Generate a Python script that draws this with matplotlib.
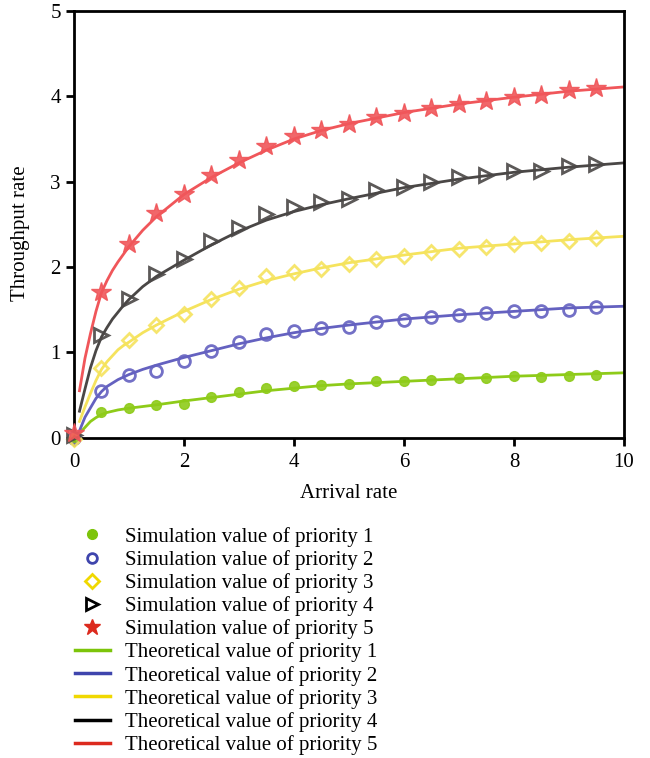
import numpy as np
import matplotlib
matplotlib.use('Agg')
import matplotlib.pyplot as plt
from matplotlib.lines import Line2D

plt.rcParams['font.family'] = ['Liberation Serif', 'DejaVu Serif']

## simulation points
x_sim = [0, 0.5, 1, 1.5, 2, 2.5, 3, 3.5, 4, 4.5, 5, 5.5, 6, 6.5, 7, 7.5, 8, 8.5, 9, 9.5]
sim_p1 = [0.0, 0.30, 0.345, 0.38, 0.39, 0.48, 0.53, 0.58, 0.60, 0.62, 0.63, 0.66, 0.66, 0.68,
          0.70, 0.70, 0.72, 0.71, 0.72, 0.74]
sim_p2 = [0.0, 0.55, 0.74, 0.78, 0.90, 1.02, 1.12, 1.21, 1.25, 1.28, 1.30, 1.35, 1.38, 1.41,
          1.44, 1.46, 1.48, 1.49, 1.50, 1.53]
sim_p3 = [-0.02, 0.82, 1.14, 1.32, 1.45, 1.63, 1.75, 1.89, 1.94, 1.98, 2.03, 2.09, 2.13, 2.18,
          2.21, 2.24, 2.27, 2.28, 2.31, 2.34]
sim_p4 = [0.03, 1.20, 1.63, 1.92, 2.09, 2.30, 2.46, 2.62, 2.70, 2.76, 2.80, 2.90, 2.94, 3.00,
          3.05, 3.08, 3.12, 3.13, 3.18, 3.21]
sim_p5 = [0.06, 1.71, 2.27, 2.63, 2.85, 3.08, 3.25, 3.42, 3.54, 3.60, 3.67, 3.76, 3.80, 3.86,
          3.91, 3.95, 3.99, 4.01, 4.07, 4.10]

## theoretical curves
x_th = [0.1, 0.2, 0.3, 0.4, 0.5, 0.6, 0.7, 0.8, 0.9, 1, 1.25, 1.5, 2, 2.5, 3, 3.5, 4, 4.5, 5,
        6, 7, 8, 9, 10]
th_p1 = [0.05, 0.12, 0.19, 0.235, 0.27, 0.295, 0.31, 0.325, 0.335, 0.345, 0.365, 0.385, 0.43,
         0.47, 0.51, 0.55, 0.58, 0.61, 0.63, 0.66, 0.69, 0.72, 0.74, 0.76]
th_p2 = [0.08, 0.24, 0.35, 0.46, 0.54, 0.60, 0.64, 0.68, 0.71, 0.74, 0.80, 0.85, 0.94, 1.02,
         1.10, 1.17, 1.23, 1.28, 1.32, 1.39, 1.44, 1.48, 1.52, 1.54]
th_p3 = [0.19, 0.36, 0.52, 0.67, 0.80, 0.89, 0.96, 1.03, 1.08, 1.12, 1.23, 1.32, 1.48, 1.62,
         1.74, 1.84, 1.92, 1.99, 2.05, 2.14, 2.22, 2.27, 2.32, 2.36]
th_p4 = [0.31, 0.57, 0.82, 1.02, 1.18, 1.29, 1.39, 1.47, 1.55, 1.62, 1.77, 1.89, 2.08, 2.26,
         2.42, 2.55, 2.65, 2.73, 2.80, 2.93, 3.03, 3.11, 3.17, 3.22]
th_p5 = [0.55, 0.93, 1.22, 1.48, 1.70, 1.84, 1.96, 2.06, 2.15, 2.24, 2.43, 2.59, 2.85, 3.05,
         3.22, 3.37, 3.50, 3.60, 3.68, 3.81, 3.91, 3.99, 4.06, 4.11]
## the two lowest curves start right at the origin
x_th_low = [0.0, 0.05]
th_p1_low = [0.0, 0.02]
th_p2_low = [0.0, 0.02]

sim_labels = ['Simulation value of priority %d' % i for i in range(1, 6)]
th_labels = ['Theoretical value of priority %d' % i for i in range(1, 6)]

plot_colors = ['#8ecb19', '#6461c0', '#f5e35d', '#4a4746', '#f0565a']
leg_colors = ['#7cc40a', '#3f45ad', '#f0d800', '#000000', '#dc2a1e']

fig = plt.figure(figsize=(6.5, 7.58), dpi=100)
ax = fig.add_axes([0.1138, 0.4226, 0.8462, 0.5629])

th_all = [th_p1, th_p2, th_p3, th_p4, th_p5]

for i in range(5):
    xs = list(x_th)
    ys = list(th_all[i])
    if i == 0:
        xs = x_th_low + xs
        ys = th_p1_low + ys
    if i == 1:
        xs = x_th_low[1:] + xs
        ys = th_p2_low[1:] + ys
    ax.plot(xs, ys, c=plot_colors[i], lw=2.0, zorder=2)

## markers
ax.plot(x_sim, sim_p1, ls='none', marker='o', ms=7, mfc=plot_colors[0], mec=plot_colors[0],
        alpha=0.9, clip_on=False, zorder=3)
ax.plot(x_sim, sim_p2, ls='none', marker='o', ms=8.5, mfc='none', mec=plot_colors[1], mew=2.0,
        alpha=0.9, clip_on=False, zorder=3)
ax.plot(x_sim, sim_p3, ls='none', marker='D', ms=7.5, mfc='none', mec=plot_colors[2], mew=2.0,
        alpha=0.9, clip_on=False, zorder=3)
ax.plot(x_sim, sim_p4, ls='none', marker='>', ms=9.5, mfc='none', mec=plot_colors[3], mew=2.0,
        alpha=0.9, clip_on=False, zorder=3)
ax.plot(x_sim, sim_p5, ls='none', marker='*', ms=15, mfc=plot_colors[4], mec=plot_colors[4],
        alpha=0.9, clip_on=False, zorder=3)

ax.set_xlim(0, 10)
ax.set_ylim(0, 5)
ax.set_xticks([0, 2, 4, 6, 8, 10])
ax.set_yticks([0, 1, 2, 3, 4, 5])
ax.tick_params(direction='out', length=6, width=2, labelsize=15, top=False, right=False)
ax.tick_params(axis='x', pad=5)
for sp in ax.spines.values():
    sp.set_linewidth(2)
ax.set_xlabel('Arrival rate', fontsize=15, labelpad=9)
ax.set_ylabel('Throughput rate', fontsize=15)
ax.yaxis.set_label_coords(-0.08, 0.48)

## legend with its own (more saturated) colours
handles = [
    Line2D([], [], ls='none', marker='o', ms=7, mfc=leg_colors[0], mec=leg_colors[0]),
    Line2D([], [], ls='none', marker='o', ms=7, mfc='none', mec=leg_colors[1], mew=2),
    Line2D([], [], ls='none', marker='D', ms=7, mfc='none', mec=leg_colors[2], mew=2),
    Line2D([], [], ls='none', marker='>', ms=8, mfc='none', mec=leg_colors[3], mew=2),
    Line2D([], [], ls='none', marker='*', ms=12, mfc=leg_colors[4], mec=leg_colors[4]),
]
for i in range(5):
    handles.append(Line2D([], [], c=leg_colors[i], lw=2.5))
fig.legend(handles, sim_labels + th_labels, loc='upper left', bbox_to_anchor=(0.115, 0.305),
           frameon=False, fontsize=15, handlelength=1.7, handletextpad=0.72, labelspacing=0.155,
           borderpad=0, borderaxespad=0)

fig.savefig('out.png', dpi=100)
